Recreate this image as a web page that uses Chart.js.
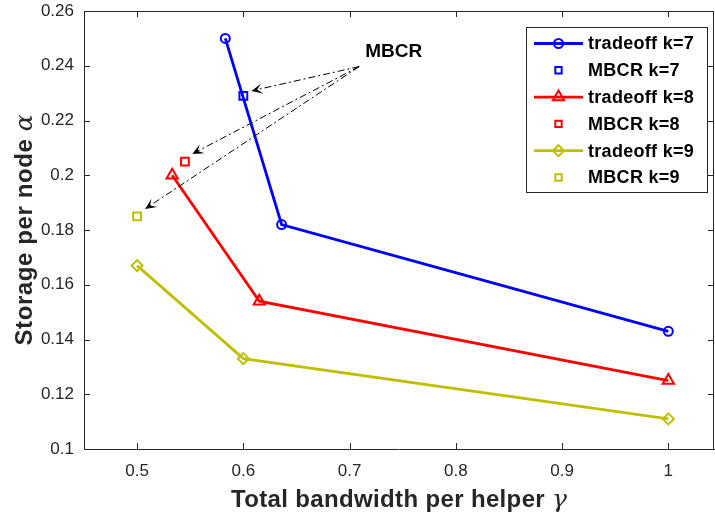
<!DOCTYPE html>
<html>
<head>
<meta charset="utf-8">
<script src="https://cdn.jsdelivr.net/npm/chart.js@4.4.1/dist/chart.umd.min.js"></script>
<style>
  html, body { margin: 0; padding: 0; background: #fff; }
  canvas { display: block; }
</style>
</head>
<body>
<canvas id="chart" width="715" height="513"></canvas>
<script>
// Storage vs. bandwidth tradeoff, k = 7, 8, 9
const seriesLabels = ['tradeoff k=7', 'MBCR k=7', 'tradeoff k=8', 'MBCR k=8', 'tradeoff k=9', 'MBCR k=9'];

const k7Gamma = [0.583, 0.636, 1.0];
const k7Alpha = [0.25, 0.182, 0.143];
const k8Gamma = [0.533, 0.615, 1.0];
const k8Alpha = [0.2, 0.154, 0.125];
const k9Gamma = [0.5, 0.6, 1.0];
const k9Alpha = [0.167, 0.133, 0.111];

// MBCR points for k = 7, 8, 9
const mbcrGamma = [0.6, 0.545, 0.5];
const mbcrAlpha = [0.229, 0.205, 0.185];

const xTicks = [0.5, 0.6, 0.7, 0.8, 0.9, 1];
const xTickLabels = ['0.5', '0.6', '0.7', '0.8', '0.9', '1'];
const yTicks = [0.1, 0.12, 0.14, 0.16, 0.18, 0.2, 0.22, 0.24, 0.26];
const yTickLabels = ['0.1', '0.12', '0.14', '0.16', '0.18', '0.2', '0.22', '0.24', '0.26'];

// "MBCR" callout, in data coordinates
const calloutText = 'MBCR';
const calloutTextAt = [0.7415, 0.245];
const calloutFrom = [0.709, 0.2397];
const calloutTips = [[0.6075, 0.2308], [0.552, 0.2078], [0.5075, 0.1877]];

const BLUE = '#0000ff';
const RED = '#ff0000';
const YELLOW = '#bfbf00';
const AXIS = '#262626';
const FONT = '"Liberation Sans", Arial, Helvetica, sans-serif';

function pts(xs, ys) {
  return xs.map((x, i) => ({ x, y: ys[i] }));
}

function lineSet(label, xs, ys, color, style, radius) {
  return {
    label,
    data: pts(xs, ys),
    showLine: true,
    borderColor: color,
    backgroundColor: 'rgba(0,0,0,0)',
    borderWidth: 2.8,
    pointStyle: style,
    pointRadius: radius,
    pointBorderWidth: 2,
    pointBorderColor: color,
    pointBackgroundColor: 'rgba(0,0,0,0)',
  };
}

function squareSet(label, i, color) {
  return {
    label,
    data: [{ x: mbcrGamma[i], y: mbcrAlpha[i] }],
    showLine: false,
    borderColor: color,
    backgroundColor: 'rgba(0,0,0,0)',
    pointStyle: 'rect',
    pointRadius: 5.5,
    pointBorderWidth: 2,
    pointBorderColor: color,
    pointBackgroundColor: 'rgba(0,0,0,0)',
  };
}

// inward ticks on all four sides + top/right box lines
const boxTicks = {
  id: 'boxTicks',
  afterDatasetsDraw(chart) {
    const { ctx, chartArea: a, scales } = chart;
    const len = 6;
    ctx.save();
    ctx.strokeStyle = AXIS;
    ctx.lineWidth = 1;
    ctx.beginPath();
    ctx.moveTo(a.left, a.top + 0.5);
    ctx.lineTo(a.right, a.top + 0.5);
    ctx.moveTo(a.right - 0.5, a.top);
    ctx.lineTo(a.right - 0.5, a.bottom);
    xTicks.forEach((v) => {
      const px = Math.round(scales.x.getPixelForValue(v)) + 0.5;
      ctx.moveTo(px, a.bottom); ctx.lineTo(px, a.bottom - len);
      ctx.moveTo(px, a.top); ctx.lineTo(px, a.top + len);
    });
    yTicks.forEach((v) => {
      const py = Math.round(scales.y.getPixelForValue(v)) + 0.5;
      ctx.moveTo(a.left, py); ctx.lineTo(a.left + len, py);
      ctx.moveTo(a.right, py); ctx.lineTo(a.right - len, py);
    });
    ctx.stroke();
    ctx.restore();
  },
};

// dash-dot arrows from the "MBCR" label to the MBCR points
const callout = {
  id: 'callout',
  afterDatasetsDraw(chart) {
    const { ctx, scales } = chart;
    const X = (v) => scales.x.getPixelForValue(v);
    const Y = (v) => scales.y.getPixelForValue(v);
    const sx = X(calloutFrom[0]);
    const sy = Y(calloutFrom[1]);
    ctx.save();
    ctx.strokeStyle = '#000';
    ctx.fillStyle = '#000';
    ctx.lineWidth = 1;
    calloutTips.forEach(([tx, ty]) => {
      const ex = X(tx), ey = Y(ty);
      const ang = Math.atan2(ey - sy, ex - sx);
      const L = 11, W = 5, notch = 6;
      ctx.setLineDash([7, 3, 2, 3]);
      ctx.beginPath();
      ctx.moveTo(sx, sy);
      ctx.lineTo(ex - Math.cos(ang) * notch, ey - Math.sin(ang) * notch);
      ctx.stroke();
      ctx.setLineDash([]);
      // back-swept arrowhead
      const bx = ex - Math.cos(ang) * L, by = ey - Math.sin(ang) * L;
      const nx = -Math.sin(ang), ny = Math.cos(ang);
      ctx.beginPath();
      ctx.moveTo(ex, ey);
      ctx.lineTo(bx + nx * W, by + ny * W);
      ctx.lineTo(ex - Math.cos(ang) * notch, ey - Math.sin(ang) * notch);
      ctx.lineTo(bx - nx * W, by - ny * W);
      ctx.closePath();
      ctx.fill();
    });
    ctx.font = `bold 19px ${FONT}`;
    ctx.textAlign = 'center';
    ctx.textBaseline = 'middle';
    ctx.fillText(calloutText, X(calloutTextAt[0]), Y(calloutTextAt[1]));
    ctx.restore();
  },
};

// MATLAB-style legend box, top right
const boxLegend = {
  id: 'boxLegend',
  afterDraw(chart) {
    const { ctx } = chart;
    const left = 526, top = 27, w = 181, h = 165;
    const rowY0 = 43.5, step = 26.8;
    ctx.save();
    ctx.fillStyle = '#fff';
    ctx.fillRect(left, top, w, h);
    ctx.strokeStyle = AXIS;
    ctx.lineWidth = 1;
    ctx.strokeRect(left + 0.5, top + 0.5, w, h);
    chart.data.datasets.forEach((ds, i) => {
      const y = rowY0 + i * step;
      if (ds.showLine) {
        ctx.strokeStyle = ds.borderColor;
        ctx.lineWidth = ds.borderWidth;
        ctx.beginPath();
        ctx.moveTo(534, y);
        ctx.lineTo(583, y);
        ctx.stroke();
      }
      ctx.strokeStyle = ds.pointBorderColor;
      ctx.fillStyle = 'rgba(0,0,0,0)';
      ctx.lineWidth = ds.pointBorderWidth;
      Chart.helpers.drawPoint(ctx, {
        pointStyle: ds.pointStyle,
        radius: ds.pointStyle === 'rect' ? 4.5 : ds.pointRadius,
        rotation: 0,
        borderWidth: ds.pointBorderWidth,
      }, 558.5, y);
      ctx.fillStyle = '#000';
      ctx.font = `bold 18px ${FONT}`;
      ctx.letterSpacing = '0.3px';
      ctx.textAlign = 'left';
      ctx.textBaseline = 'middle';
      ctx.fillText(ds.label, 588, y + 1);
      ctx.letterSpacing = '0px';
    });
    ctx.restore();
  },
};

// axis titles with italic greek symbol
function drawMixed(ctx, parts, cx, cy) {
  let total = 0;
  parts.forEach((p) => {
    ctx.font = p.font;
    ctx.letterSpacing = p.spacing || '0px';
    total += ctx.measureText(p.text).width;
  });
  let x = cx - total / 2;
  parts.forEach((p) => {
    ctx.font = p.font;
    ctx.letterSpacing = p.spacing || '0px';
    ctx.fillText(p.text, x, cy);
    x += ctx.measureText(p.text).width;
  });
  ctx.letterSpacing = '0px';
}

const axisTitles = {
  id: 'axisTitles',
  afterDraw(chart) {
    const { ctx, chartArea: a } = chart;
    const bold = `bold 24px ${FONT}`;
    const greek = 'italic 25px "DejaVu Serif", "Liberation Serif", serif';
    ctx.save();
    ctx.fillStyle = AXIS;
    ctx.textAlign = 'left';
    ctx.textBaseline = 'middle';
    drawMixed(ctx, [
      { text: 'Total bandwidth per helper ', font: bold, spacing: '0.35px' },
      { text: 'γ', font: greek },
    ], (a.left + a.right) / 2, 500);
    ctx.translate(25, (a.top + a.bottom) / 2);
    ctx.rotate(-Math.PI / 2);
    drawMixed(ctx, [
      { text: 'Storage per node ', font: bold, spacing: '0.6px' },
      { text: 'α', font: greek },
    ], 0, 0);
    ctx.restore();
  },
};

new Chart(document.getElementById('chart').getContext('2d'), {
  type: 'scatter',
  data: {
    datasets: [
      lineSet(seriesLabels[0], k7Gamma, k7Alpha, BLUE, 'circle', 4.5),
      squareSet(seriesLabels[1], 0, BLUE),
      lineSet(seriesLabels[2], k8Gamma, k8Alpha, RED, 'triangle', 6.5),
      squareSet(seriesLabels[3], 1, RED),
      lineSet(seriesLabels[4], k9Gamma, k9Alpha, YELLOW, 'rectRot', 5.5),
      squareSet(seriesLabels[5], 2, YELLOW),
    ],
  },
  options: {
    responsive: false,
    animation: false,
    devicePixelRatio: 1,
    layout: { autoPadding: false, padding: { top: 11, right: 1, left: 0, bottom: 0 } },
    scales: {
      x: {
        type: 'linear',
        min: 0.45,
        max: 1.043,
        afterBuildTicks: (s) => { s.ticks = xTicks.map((v) => ({ value: v })); },
        afterFit: (s) => { s.height = 64; s.paddingLeft = 0; s.paddingRight = 0; },
        grid: { drawOnChartArea: false, drawTicks: false },
        border: { display: true, color: AXIS, width: 1 },
        ticks: {
          color: AXIS,
          padding: 12,
          maxRotation: 0,
          font: { family: FONT, size: 17 },
          callback: (v) => xTickLabels[xTicks.indexOf(v)] ?? '',
        },
      },
      y: {
        type: 'linear',
        min: 0.1,
        max: 0.26,
        afterBuildTicks: (s) => { s.ticks = yTicks.map((v) => ({ value: v })); },
        afterFit: (s) => { s.width = 84; s.paddingTop = 0; s.paddingBottom = 0; },
        grid: { drawOnChartArea: false, drawTicks: false },
        border: { display: true, color: AXIS, width: 1 },
        ticks: {
          color: AXIS,
          padding: 10,
          font: { family: FONT, size: 17 },
          callback: (v) => yTickLabels[yTicks.indexOf(v)] ?? '',
        },
      },
    },
    plugins: {
      legend: { display: false },
      tooltip: { enabled: false },
    },
  },
  plugins: [boxTicks, callout, boxLegend, axisTitles],
});
</script>
</body>
</html>
